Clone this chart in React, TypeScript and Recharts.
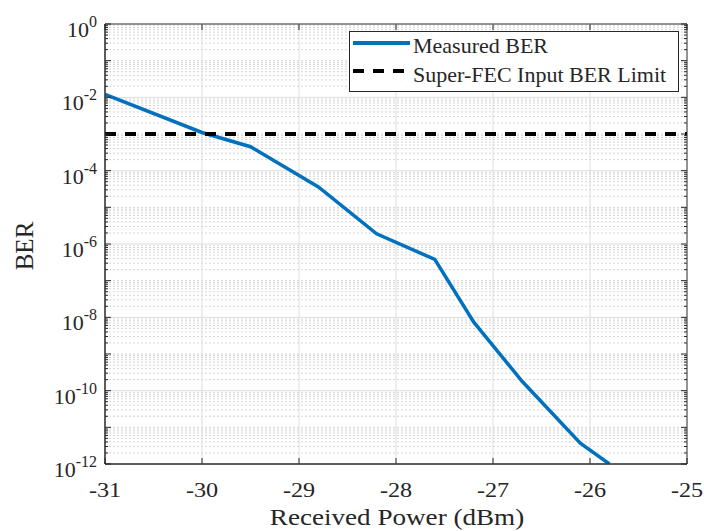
import React from 'react';
import { LineChart, Line, XAxis, YAxis, ReferenceLine, ReferenceArea, Legend } from 'recharts';

// ---- data ----
const powerDbm = [-31, -30, -29.5, -28.8, -28.2, -27.6, -27.2, -26.7, -26.1, -25.8];
const measuredBer = [1.2e-2, 1.1e-3, 4.5e-4, 3.6e-5, 1.9e-6, 3.8e-7, 7.5e-9, 1.8e-10, 3.7e-12, 1.0e-12];
const fecPower = [-31, -25];
const fecBer = [1e-3, 1e-3];

const xTicks = [-31, -30, -29, -28, -27, -26, -25];
const yLabeledTicks = [1, 1e-2, 1e-4, 1e-6, 1e-8, 1e-10, 1e-12];
const yOddDecades = [1e-1, 1e-3, 1e-5, 1e-7, 1e-9, 1e-11];
const minorMantissas = [2, 3, 4, 5, 6, 7, 8, 9];
const decadeExps = [-12, -11, -10, -9, -8, -7, -6, -5, -4, -3, -2, -1];

const seriesNames = ['Measured BER', 'Super-FEC Input BER Limit'];

const minorY: number[] = [];
decadeExps.forEach((e) => minorMantissas.forEach((m) => minorY.push(Number((m * Math.pow(10, e)).toPrecision(3)))));
const allMinorY = [...yOddDecades, ...minorY];
const allYTicks = [...yLabeledTicks, ...allMinorY];

const measuredData = powerDbm.map((p, i) => ({ p, ber: measuredBer[i] }));
const fecData = fecPower.map((p, i) => ({ p, ber: fecBer[i] }));

// ---- layout ----
const W = 704;
const H = 531;
const PLOT_LEFT = 105;
const PLOT_TOP = 24;
const PLOT_RIGHT = 17;
const PLOT_BOTTOM = 67;
const PLOT_W = W - PLOT_LEFT - PLOT_RIGHT;
const PLOT_H = H - PLOT_TOP - PLOT_BOTTOM;
const FONT = '"Liberation Serif", "Times New Roman", serif';
const AXIS_COLOR = '#262626';
const BLUE = '#0072BD';

const YTick = (props: any) => {
  const { x, y, payload } = props;
  const v = payload.value;
  const labeled = yLabeledTicks.includes(v);
  const len = labeled || yOddDecades.includes(v) ? 6 : 3;
  const exp = Math.round(Math.log10(v));
  return (
    <g>
      <line x1={x} y1={y} x2={x + len} y2={y} stroke={AXIS_COLOR} strokeWidth={1} />
      <line x1={x + PLOT_W} y1={y} x2={x + PLOT_W - len} y2={y} stroke={AXIS_COLOR} strokeWidth={1} />
      {labeled && (
        <text x={x - 8} y={y + 13} textAnchor="end" fontFamily={FONT} fontSize={22} fill={AXIS_COLOR}>
          <tspan>10</tspan>
          <tspan dy={-10} fontSize={16}>{String(exp)}</tspan>
        </text>
      )}
    </g>
  );
};

const XTick = (props: any) => {
  const { x, y, payload } = props;
  return (
    <g>
      <line x1={x} y1={y} x2={x} y2={y - 6} stroke={AXIS_COLOR} strokeWidth={1} />
      <line x1={x} y1={y - PLOT_H} x2={x} y2={y - PLOT_H + 6} stroke={AXIS_COLOR} strokeWidth={1} />
      <g transform={`translate(${x}, ${y + 33}) scale(1.1, 1)`}>
        <text x={0} y={0} textAnchor="middle" fontFamily={FONT} fontSize={22} fill={AXIS_COLOR}>
          {String(payload.value)}
        </text>
      </g>
    </g>
  );
};

const LegendBox = () => (
  <svg width={330} height={61} style={{ display: 'block' }}>
    <rect x={0.5} y={0.5} width={329} height={60} fill="#ffffff" stroke={AXIS_COLOR} strokeWidth={1} />
    <line x1={4} y1={12} x2={61} y2={12} stroke={BLUE} strokeWidth={4} />
    <text x={64} y={22} fontFamily={FONT} fontSize={22} fill={AXIS_COLOR}>{seriesNames[0]}</text>
    <line x1={4} y1={40} x2={61} y2={40} stroke="#000" strokeWidth={4} strokeDasharray="11 9" />
    <text x={64} y={51} fontFamily={FONT} fontSize={22} fill={AXIS_COLOR}>{seriesNames[1]}</text>
  </svg>
);

export default function App() {
  return (
    <div style={{ position: 'absolute', left: 0, top: 0, width: W, height: H, background: '#fff' }}>
      <LineChart width={W} height={H} margin={{ top: PLOT_TOP, right: PLOT_RIGHT, left: 0, bottom: 0 }}>
        <XAxis
          dataKey="p"
          type="number"
          domain={[-31, -25]}
          ticks={xTicks}
          interval={0}
          height={PLOT_BOTTOM}
          tickSize={0}
          tickMargin={0}
          tick={<XTick />}
          axisLine={{ stroke: AXIS_COLOR }}
          allowDataOverflow
          label={(lp: any) => {
            const vb = lp.viewBox;
            return (
              <g transform={`translate(${vb.x + vb.width / 2 + 1}, ${vb.y + 61}) scale(1.13, 1)`}>
                <text x={0} y={0} textAnchor="middle" fontFamily={FONT} fontSize={24} fill={AXIS_COLOR}>
                  Received Power (dBm)
                </text>
              </g>
            );
          }}
        />
        <YAxis
          dataKey="ber"
          scale="log"
          domain={[1e-12, 1]}
          ticks={allYTicks}
          interval={0}
          width={PLOT_LEFT}
          tickSize={0}
          tickMargin={0}
          tick={<YTick />}
          axisLine={{ stroke: AXIS_COLOR }}
          allowDataOverflow
          label={(lp: any) => {
            const vb = lp.viewBox;
            const cy = vb.y + vb.height / 2 + 2;
            return (
              <text x={33} y={cy} transform={`rotate(-90, 33, ${cy})`} textAnchor="middle" fontFamily={FONT} fontSize={25} fill={AXIS_COLOR}>
                BER
              </text>
            );
          }}
        />
        {allMinorY.map((v) => (
          <ReferenceLine key={'my' + v} y={v} stroke="#d6d6d6" strokeWidth={1} strokeDasharray="2 2" />
        ))}
        {yLabeledTicks.slice(1, -1).map((v) => (
          <ReferenceLine key={'My' + v} y={v} stroke="#dedede" strokeWidth={1} />
        ))}
        {xTicks.slice(1, -1).map((v) => (
          <ReferenceLine key={'Mx' + v} x={v} stroke="#dedede" strokeWidth={1} />
        ))}
        <Line
          data={measuredData}
          dataKey="ber"
          name={seriesNames[0]}
          stroke={BLUE}
          strokeWidth={3.5}
          dot={false}
          isAnimationActive={false}
        />
        <Line
          data={fecData}
          dataKey="ber"
          name={seriesNames[1]}
          stroke="#000000"
          strokeWidth={4}
          strokeDasharray="11 9"
          dot={false}
          isAnimationActive={false}
        />
        <ReferenceArea x1={-31} x2={-25} y1={1e-12} y2={1} fill="none" stroke={AXIS_COLOR} strokeWidth={1} />
        <Legend
          layout="vertical"
          align="center"
          verticalAlign="middle"
          content={() => <LegendBox />}
          wrapperStyle={{ position: 'absolute', left: 349, top: 31, width: 330, height: 61 }}
        />
      </LineChart>
    </div>
  );
}
